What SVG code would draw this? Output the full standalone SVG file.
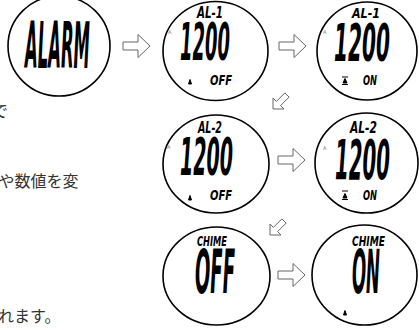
<svg xmlns="http://www.w3.org/2000/svg" width="419" height="330" viewBox="0 0 419 330">
<defs>
<style>
.face{fill:#fff;stroke:#000;stroke-width:1.6}
.arr{fill:#fff;stroke:#666;stroke-width:1}
.lcd{font-family:"Liberation Sans Narrow","DejaVu Sans Condensed","DejaVu Sans",sans-serif;font-weight:bold;font-style:italic;fill:#000}
.tiny{font-family:"DejaVu Sans",sans-serif;font-size:5px;fill:#777}
.jp{font-family:"Noto Sans CJK JP",sans-serif;font-size:16px;fill:#333}
.icon{fill:#000;stroke:#000;stroke-width:1}
</style>
<path id="ra" d="M0,-4 H15 V-11.5 L27,0 L15,11.5 V4 H0 Z"/>
<path id="da" d="M0,0 L0,-11 L3.4,-7.6 L11.9,-16.1 L16.1,-11.9 L7.6,-3.4 L11,0 Z"/>
</defs>
<rect width="419" height="330" fill="#fff"/>

<g id="text-left">
<text class="jp" x="-8" y="117">で</text>
<text class="jp" x="-1.5" y="186.5">や数値を変</text>
<text class="jp" x="-2" y="321.5">れます。</text>
</g>

<g id="connectors">
<use href="#ra" class="arr" x="123" y="46"/>
<use href="#ra" class="arr" x="279" y="46"/>
<use href="#ra" class="arr" x="278" y="160"/>
<use href="#ra" class="arr" x="278" y="275"/>
<use href="#da" class="arr" x="273" y="109"/>
<use href="#da" class="arr" x="270" y="235"/>
</g>

<g id="alarm">
<ellipse class="face" cx="59" cy="46" rx="51" ry="50"/>
<text class="lcd" x="25" y="68" font-size="64" textLength="65" lengthAdjust="spacingAndGlyphs">ALARM</text>
</g>

<g id="al1-off">
<ellipse class="face" cx="215.5" cy="51" rx="52.5" ry="49.5"/>
<text class="lcd" x="197" y="18" font-size="15" textLength="26" lengthAdjust="spacingAndGlyphs">AL-1</text>
<text class="tiny" x="168" y="34">A</text>
<text class="lcd" x="180" y="60" font-size="51" textLength="50" lengthAdjust="spacingAndGlyphs">1200</text>
<path class="icon" d="M188.5,84 L190,79.5 L191.5,84 Z"/>
<text class="lcd" x="210" y="85" font-size="14" textLength="22" lengthAdjust="spacingAndGlyphs">OFF</text>
</g>

<g id="al1-on">
<ellipse class="face" cx="367" cy="51" rx="50" ry="49"/>
<text class="lcd" x="352" y="18" font-size="14" textLength="28" lengthAdjust="spacingAndGlyphs">AL-1</text>
<text class="tiny" x="323" y="34">A</text>
<text class="lcd" x="334" y="61" font-size="52" textLength="56" lengthAdjust="spacingAndGlyphs">1200</text>
<path class="icon" d="M342,77 H348 M342,84.5 H348 M343,83 L345,78.5 L347,83 Z"/>
<text class="lcd" x="363" y="85" font-size="14" textLength="14" lengthAdjust="spacingAndGlyphs">ON</text>
</g>

<g id="al2-off">
<ellipse class="face" cx="216" cy="164" rx="53" ry="49"/>
<text class="lcd" x="198" y="133" font-size="15" textLength="24" lengthAdjust="spacingAndGlyphs">AL-2</text>
<text class="tiny" x="167" y="149">A</text>
<text class="lcd" x="180" y="175" font-size="51" textLength="53" lengthAdjust="spacingAndGlyphs">1200</text>
<path class="icon" d="M188.5,200 L190,195.5 L191.5,200 Z"/>
<text class="lcd" x="210" y="200" font-size="14" textLength="22" lengthAdjust="spacingAndGlyphs">OFF</text>
</g>

<g id="al2-on">
<ellipse class="face" cx="366.5" cy="163" rx="51.5" ry="50"/>
<text class="lcd" x="350" y="133" font-size="15" textLength="27" lengthAdjust="spacingAndGlyphs">AL-2</text>
<text class="tiny" x="323" y="150">A</text>
<text class="lcd" x="335" y="179" font-size="55" textLength="55" lengthAdjust="spacingAndGlyphs">1200</text>
<path class="icon" d="M342,191 H348 M342,199.5 H348 M343,198 L345,193.5 L347,198 Z"/>
<text class="lcd" x="363" y="200" font-size="14" textLength="14" lengthAdjust="spacingAndGlyphs">ON</text>
</g>

<g id="chime-off">
<ellipse class="face" cx="216.5" cy="276" rx="53.5" ry="49"/>
<text class="lcd" x="197" y="246" font-size="14" textLength="30" lengthAdjust="spacingAndGlyphs">CHIME</text>
<text class="lcd" x="195" y="293" font-size="60" textLength="40" lengthAdjust="spacingAndGlyphs">OFF</text>
</g>

<g id="chime-on">
<ellipse class="face" cx="364.5" cy="275" rx="52.5" ry="50"/>
<text class="lcd" x="352" y="246" font-size="14" textLength="33" lengthAdjust="spacingAndGlyphs">CHIME</text>
<text class="lcd" x="352" y="293" font-size="60" textLength="28" lengthAdjust="spacingAndGlyphs">ON</text>
<path class="icon" d="M343.5,315 L345,310.5 L346.5,315 Z"/>
</g>
</svg>
